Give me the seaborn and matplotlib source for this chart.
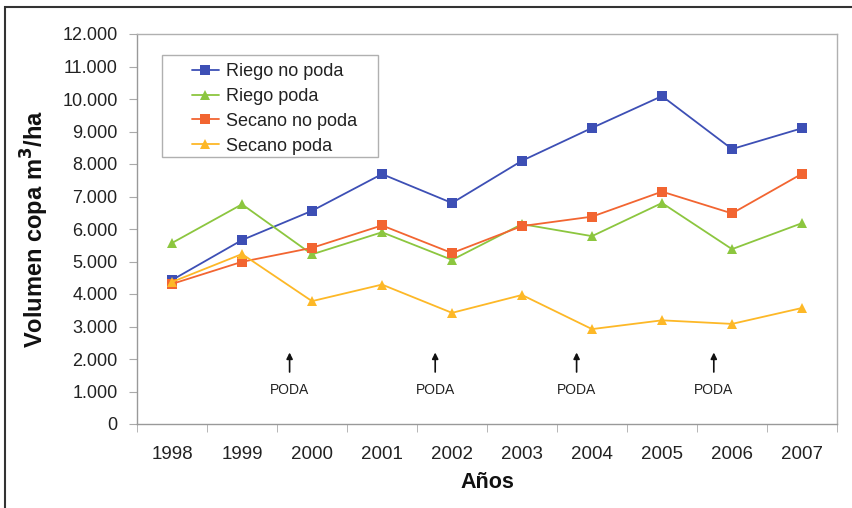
import numpy as np
import pandas as pd
import seaborn as sns
import matplotlib.pyplot as plt
from matplotlib.patches import Rectangle

years = [1998, 1999, 2000, 2001, 2002, 2003, 2004, 2005, 2006, 2007]
riego_no_poda = [4430, 5660, 6560, 7690, 6800, 8100, 9110, 10090, 8460, 9100]
riego_poda = [5570, 6760, 5220, 5900, 5050, 6150, 5780, 6800, 5380, 6180]
secano_no_poda = [4310, 4990, 5420, 6110, 5260, 6090, 6380, 7150, 6480, 7700]
secano_poda = [4370, 5230, 3780, 4290, 3420, 3970, 2920, 3190, 3080, 3570]
series_names = ["Riego no poda", "Riego poda", "Secano no poda", "Secano poda"]
poda_x = [1999.68, 2001.76, 2003.78, 2005.74]
y_ticks = list(range(0, 13000, 1000))
y_tick_labels = ["0"] + ["{:,}".format(v).replace(",", ".") for v in y_ticks[1:]]

colors = {"Riego no poda": "#3d4fb5", "Riego poda": "#8cc63f",
          "Secano no poda": "#f26531", "Secano poda": "#fdb827"}
markers = {"Riego no poda": "s", "Riego poda": "^",
           "Secano no poda": "s", "Secano poda": "^"}

frames = []
for name, vals in zip(series_names,
                      [riego_no_poda, riego_poda, secano_no_poda, secano_poda]):
    frames.append(pd.DataFrame({"Año": years, "Volumen": vals, "Serie": name}))
df = pd.concat(frames, ignore_index=True)

sns.set_style("white")
plt.rcParams["font.family"] = ["Liberation Sans", "DejaVu Sans"]

fig = plt.figure(figsize=(8.52, 5.08), dpi=100)
ax = fig.add_axes([137 / 852, 84 / 508, 700 / 852, 390 / 508])

sns.lineplot(data=df, x="Año", y="Volumen", hue="Serie", style="Serie",
             palette=colors, markers=markers, dashes=False, ax=ax,
             linewidth=1.3, markersize=7, markeredgewidth=0, legend="full")

ax.set_xlim(1997.5, 2007.5)
ax.set_ylim(0, 12000)
ax.set_xticks(years)
ax.set_xticklabels([str(y) for y in years])
ax.set_xticks(np.arange(1997.5, 2008, 1), minor=True)
ax.tick_params(axis="x", which="major", length=0, labelsize=13.5, pad=16)
ax.tick_params(axis="x", which="minor", length=6, color="#aaaaaa",
               direction="out", bottom=True)
ax.set_yticks(y_ticks)
ax.set_yticklabels(y_tick_labels)
ax.tick_params(axis="y", which="major", length=6, color="#aaaaaa",
               direction="out", left=True, labelsize=13, pad=8)
for lab in ax.get_yticklabels() + ax.get_xticklabels():
    lab.set_color("#222222")

for spine in ax.spines.values():
    spine.set_color("#b0b0b0")
    spine.set_linewidth(1.0)
ax.spines["bottom"].set_color("#999999")
ax.spines["left"].set_color("#999999")

ax.set_xlabel("Años", fontsize=15.5, fontweight="bold", labelpad=6,
              color="#111111")
ax.set_ylabel("Volumen copa m$^\\mathbf{3}$/ha", fontsize=17,
              fontweight="bold", labelpad=8, color="#111111")

for x in poda_x:
    ax.annotate("", xy=(x, 2200), xytext=(x, 1600),
                arrowprops=dict(arrowstyle="-|>", color="#111111", lw=1.2,
                                mutation_scale=9, shrinkA=0, shrinkB=0))
    ax.text(x, 1050, "PODA", ha="center", va="center", fontsize=10,
            color="#222222")

leg = ax.legend(loc="upper left", bbox_to_anchor=(0.078, 0.925),
                fontsize=13, frameon=False, borderpad=0, borderaxespad=0,
                handlelength=1.5, handletextpad=0.4, labelspacing=0.43,
                title=None)
for text in leg.get_texts():
    text.set_color("#222222")
ax.add_patch(Rectangle((25 / 700, 267 / 390), 216 / 700, 102 / 390,
                       transform=ax.transAxes, fill=False,
                       edgecolor="#b0b0b0", linewidth=1.0, zorder=5))

fig.patches.append(Rectangle((5 / 852, -0.1), 1.2, (508 - 7) / 508 + 0.1,
                             transform=fig.transFigure, fill=False,
                             edgecolor="#333333", linewidth=1.5))

fig.savefig("out.png", dpi=100)
